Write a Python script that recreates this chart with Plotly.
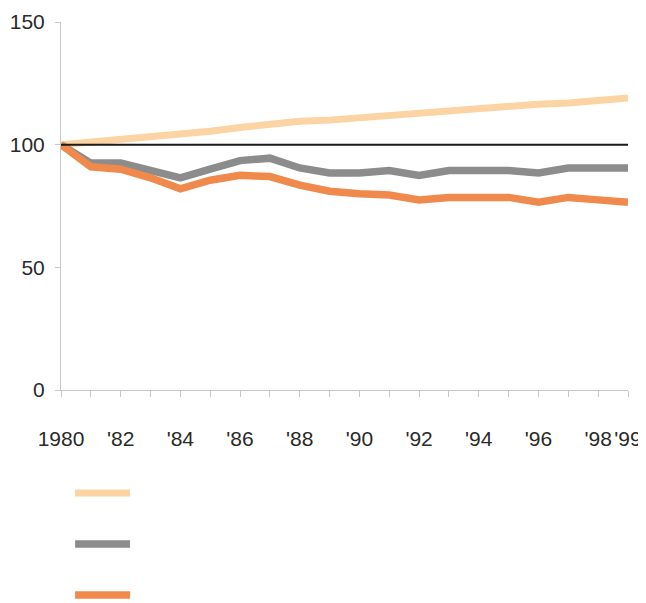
import plotly.graph_objects as go

years = list(range(1980, 2000))
light_series = [100, 101, 102.5, 103, 104, 105.5, 107, 108.5, 109.5, 110, 111, 112, 113, 114, 114.5, 115.5, 116.5, 117, 118, 119]
gray_series = [100, 92.5, 92.5, 89.5, 86.5, 90, 93.5, 94.5, 90.5, 88.5, 88.5, 89.5, 87.5, 89.5, 89.5, 89.5, 88.5, 90.5, 90.5, 90.5]
orange_series = [100, 91, 90, 86.5, 82, 85.5, 87.5, 87, 83.5, 81, 80, 79.5, 77.5, 78.5, 78.5, 78.5, 76.5, 78.5, 77.5, 76.5]
baseline_value = 100
x_tick_labels = ["1980", "", "'82", "", "'84", "", "'86", "", "'88", "", "'90", "", "'92", "", "'94", "", "'96", "", "'98", "'99"]
y_tick_vals = [0, 50, 100, 150]

FONT = "Liberation Sans, Arial, sans-serif"

fig = go.Figure()
fig.add_trace(go.Scatter(x=years, y=light_series, mode="lines", name="",
                         line=dict(color="#FCD3A2", width=7), legend="legend"))
fig.add_trace(go.Scatter(x=years, y=gray_series, mode="lines", name="",
                         line=dict(color="#8C8C8C", width=7.5), legend="legend2"))
fig.add_trace(go.Scatter(x=years, y=orange_series, mode="lines", name="",
                         line=dict(color="#F08A4C", width=7.5), legend="legend3"))

fig.add_shape(type="line", xref="x", yref="y", x0=years[0], x1=years[-1],
              y0=baseline_value, y1=baseline_value, line=dict(color="#1a1a1a", width=2))

leg_common = dict(xanchor="left", yanchor="middle", bgcolor="rgba(0,0,0,0)",
                  borderwidth=0, itemwidth=55, font=dict(size=12, family=FONT))

fig.update_layout(
    width=638, height=595,
    margin=dict(l=53, r=18, t=14, b=213, autoexpand=False),
    paper_bgcolor="white", plot_bgcolor="white",
    font=dict(family=FONT, color="#2a2a2a", size=21),
    showlegend=True,
    legend=dict(x=0.016, y=-0.28, **leg_common),
    legend2=dict(x=0.016, y=-0.4185, **leg_common),
    legend3=dict(x=0.016, y=-0.557, **leg_common),
    xaxis=dict(range=[1980, 1999], tickvals=years, ticktext=x_tick_labels, automargin=False,
               showgrid=False, zeroline=False, showline=True, linecolor="#c8c8c8", linewidth=1,
               ticks="outside", ticklen=6, tickcolor="#c8c8c8", ticklabelstandoff=24,
               tickfont=dict(size=21, color="#2a2a2a")),
    yaxis=dict(range=[0, 150], tickvals=y_tick_vals, automargin=False,
               showgrid=False, zeroline=False, showline=True, linecolor="#c8c8c8", linewidth=1,
               ticks="outside", ticklen=5, tickcolor="#c8c8c8", ticklabelstandoff=6,
               tickfont=dict(size=21, color="#2a2a2a")),
)

fig.write_html("out.html")
